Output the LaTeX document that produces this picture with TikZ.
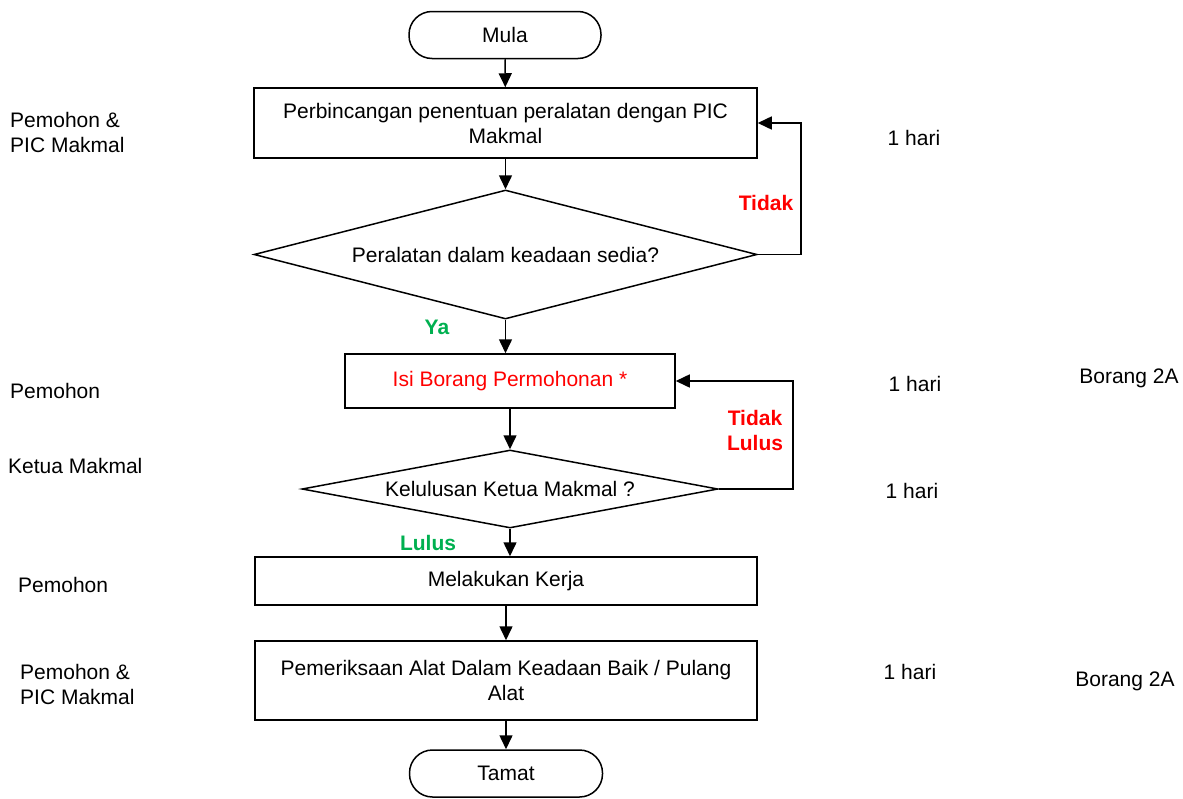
\documentclass[tikz,border=0pt]{standalone}
\usepackage{fontspec}
\setmainfont{Liberation Sans}
\usetikzlibrary{shapes.geometric,arrows.meta}
\definecolor{myred}{RGB}{255,0,0}
\definecolor{mygreen}{RGB}{0,176,80}
\begin{document}
\begin{tikzpicture}[x=1pt,y=-1pt,
  every node/.style={font=\fontsize{21}{25}\selectfont, inner sep=0pt},
  box/.style={draw, line width=1.5pt, rectangle, align=center},
  term/.style={draw, line width=1.5pt, rectangle, rounded corners=23pt, minimum width=192pt, minimum height=47pt},
  dia/.style={draw, line width=1.5pt, diamond},
  arr/.style={line width=1.5pt, -{Triangle[width=13pt,length=14pt]}},
  lbl/.style={anchor=west, align=left},
  rl/.style={font=\fontsize{21}{25}\selectfont\bfseries, align=center},
]
\useasboundingbox (0,0) rectangle (1183,798);

\node[term] (mula) at (505,35) {Mula};
\node[box, minimum width=503pt, minimum height=70pt] (b1) at (505.5,123) {Perbincangan penentuan peralatan dengan PIC\\Makmal};
\node[dia, minimum width=503pt, minimum height=129pt] (d1) at (505.5,254.5) {};
\node (t1) at (d1) {Peralatan dalam keadaan sedia?};
\node[box, minimum width=330pt, minimum height=54pt, text=myred] (b2) at (510,381) {Isi Borang Permohonan *};
\node[dia, minimum width=416pt, minimum height=78pt] (d2) at (510,489) {};
\node (t2) at (d2) {Kelulusan Ketua Makmal ?};
\node[box, minimum width=502pt, minimum height=48pt] (b3) at (506,581) {Melakukan Kerja};
\node[box, minimum width=502pt, minimum height=79pt] (b4) at (506,680.5) {Pemeriksaan Alat Dalam Keadaan Baik / Pulang\\Alat};
\node[term, minimum width=193pt] (tamat) at (506,773.5) {Tamat};

\coordinate (r1) at (801,0);
\coordinate (r2) at (793,0);

\draw[arr] (mula) -- (b1);
\draw[arr] (b1) -- (d1);
\draw[arr] (d1.south) -- (d1.south |- b2.north);
\draw[arr] (b2) -- (d2);
\draw[arr] (d2.south) -- (d2.south |- b3.north);
\draw[arr] (b3.south) -- (b3.south |- b4.north);
\draw[arr] (b4.south) -- (b4.south |- tamat.north);
\draw[arr] (d1.east) -- (d1.east -| r1) -- (b1.east -| r1) -- (b1.east);
\draw[arr] (d2.east) -- (d2.east -| r2) -- (b2.east -| r2) -- (b2.east);

\node[rl, text=myred] (tidak1) at (766,203) {Tidak};
\node[rl, text=mygreen] (ya) at (437,327) {Ya};
\node[rl, text=myred] (tidak2) at (755,430.5) {Tidak\\Lulus};
\node[rl, text=mygreen] (lulus) at (428,543) {Lulus};

\node[lbl] (p1) at (10,132.5) {Pemohon \&\\PIC Makmal};
\node[lbl] (p2) at (10,391) {Pemohon};
\node[lbl] (p3) at (8,466) {Ketua Makmal};
\node[lbl] (p4) at (18,585) {Pemohon};
\node[lbl] (p5) at (20,684.5) {Pemohon \&\\PIC Makmal};

\node (h1) at (914,138) {1 hari};
\node (h2) at (915,384) {1 hari};
\node (h3) at (912,491) {1 hari};
\node (h4) at (910,672) {1 hari};
\node (f1) at (1129,378) {Borang 2A};
\node (f2) at (1125,681) {Borang 2A};
\end{tikzpicture}
\end{document}
